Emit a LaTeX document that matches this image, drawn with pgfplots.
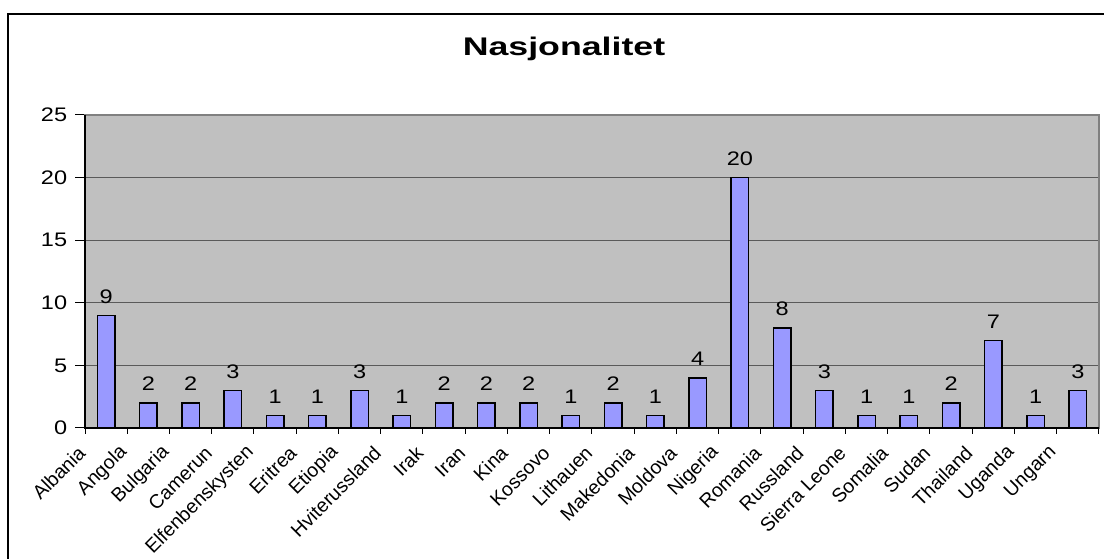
\documentclass[border=0pt]{standalone}
\usepackage{pgfplots}
\pgfplotsset{compat=1.18}
\usepackage{fontspec}
\setmainfont{Liberation Sans}
\definecolor{plotbg}{HTML}{C0C0C0}
\definecolor{barfill}{HTML}{9999FF}
\definecolor{gridc}{HTML}{5A5A5A}
\definecolor{boxc}{HTML}{808080}
\begin{document}
\begin{tikzpicture}[x=1pt,y=1pt]
\useasboundingbox (0,0) rectangle (1104,559);
\begin{scope}
\clip (0,0) rectangle (1104,559);
\draw[line width=2pt] (8,-10) rectangle (1115,545);
\end{scope}
\node[font=\fontsize{25.5}{30}\selectfont\bfseries, anchor=base, xscale=1.4] at (564,503.3) {Nasjonalitet};
\begin{axis}[
  at={(85pt,131pt)}, anchor=south west,
  width=1014pt, height=313pt, scale only axis,
  xmin=-0.5, xmax=23.5, ymin=0, ymax=25,
  ytick={0,5,...,25},
  xtick={0,...,23},
  xticklabels={Albania,Angola,Bulgaria,Camerun,Elfenbenskysten,Eritrea,Etiopia,Hviterussland,Irak,Iran,Kina,Kossovo,Lithauen,Makedonia,Moldova,Nigeria,Romania,Russland,Sierra Leone,Somalia,Sudan,Thailand,Uganda,Ungarn},
  minor xtick={-0.5,0.5,...,23.5},
  tick pos=left,
  every major x tick/.style={draw=none},
  every minor x tick/.style={black, line width=1pt},
  minor tick length=6pt,
  major tick length=10pt,
  tick align=outside,
  ytick style={black, line width=1pt},
  ymajorgrids,
  major grid style={gridc, line width=1pt},
  axis background/.style={fill=plotbg},
  axis line style={boxc, line width=1.5pt},
  /pgf/number format/assume math mode=true,
  yticklabel style={font=\fontsize{19.6}{24}\selectfont, xscale=1.2, xshift=-3pt},
  xticklabel style={font=\fontsize{19.5}{24}\selectfont, rotate=45, anchor=east, xshift=-22pt, yshift=9pt},
  ybar, bar width=17.5pt,
  nodes near coords,
  every node near coord/.append style={font=\fontsize{19.6}{24}\selectfont, black, xscale=1.2, yshift=8pt},
  clip=false,
]
\addplot[fill=barfill, draw=black, line width=1.5pt] coordinates {
(0,9) (1,2) (2,2) (3,3) (4,1) (5,1) (6,3) (7,1) (8,2) (9,2) (10,2) (11,1)
(12,2) (13,1) (14,4) (15,20) (16,8) (17,3) (18,1) (19,1) (20,2) (21,7) (22,1) (23,3)};
\draw[black, line width=1.5pt] (rel axis cs:0,1) -- (rel axis cs:0,0) -- (rel axis cs:1,0);
\end{axis}
\end{tikzpicture}
\end{document}
